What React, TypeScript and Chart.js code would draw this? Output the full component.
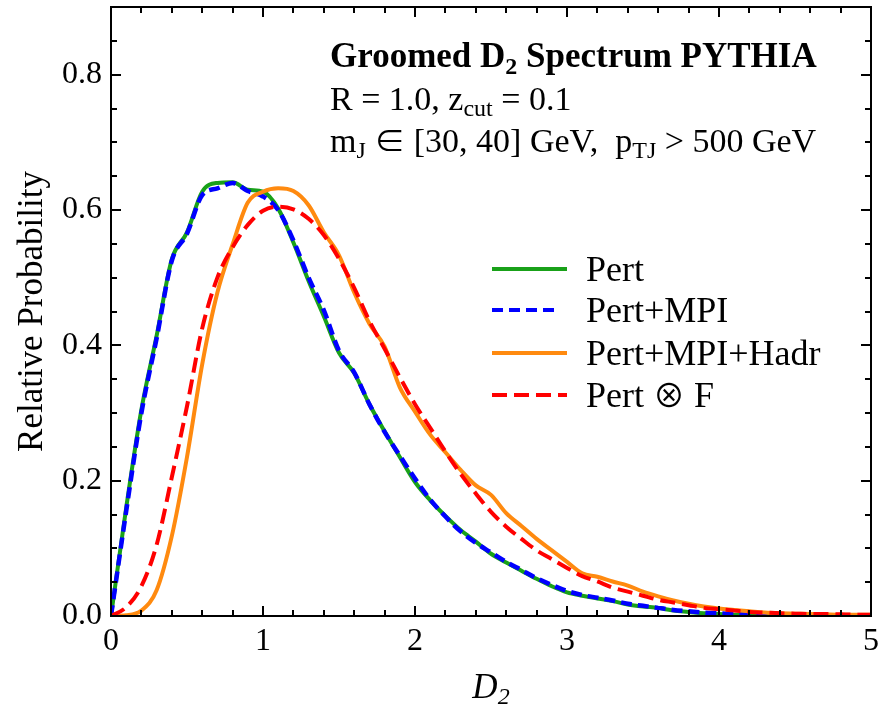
import React, { useEffect, useRef } from "react";
import { Chart, registerables } from "chart.js";

Chart.register(...registerables);

// D2 grid
const D2 = [
  0.0, 0.1, 0.2, 0.3, 0.4, 0.5, 0.6, 0.7, 0.8, 0.9,
  1.0, 1.1, 1.2, 1.3, 1.4, 1.5, 1.6, 1.7, 1.8, 1.9,
  2.0, 2.1, 2.2, 2.3, 2.4, 2.5, 2.6, 2.7, 2.8, 2.9,
  3.0, 3.1, 3.2, 3.3, 3.4, 3.5, 3.6, 3.7, 3.8, 3.9,
  4.0, 4.1, 4.2, 4.3, 4.4, 4.5, 4.6, 4.7, 4.8, 4.9, 5.0,
];

const pert = [
  0.0, 0.16, 0.305, 0.414, 0.527, 0.567, 0.627, 0.64, 0.641, 0.63,
  0.627, 0.602, 0.552, 0.495, 0.443, 0.389, 0.359, 0.313, 0.273, 0.235,
  0.198, 0.171, 0.148, 0.127, 0.11, 0.092, 0.079, 0.067, 0.055, 0.044,
  0.035, 0.03, 0.026, 0.022, 0.017, 0.014, 0.012, 0.008, 0.006, 0.004,
  0.003, 0.002, 0.002, 0.001, 0.001, 0.001, 0.001, 0.0, 0.0, 0.0, 0.0,
];

const pertMPI = [
  0.0, 0.155, 0.3, 0.41, 0.525, 0.565, 0.622, 0.632, 0.64, 0.628,
  0.62, 0.6, 0.555, 0.5, 0.452, 0.392, 0.36, 0.313, 0.272, 0.237,
  0.203, 0.172, 0.147, 0.125, 0.108, 0.094, 0.08, 0.068, 0.056, 0.046,
  0.037, 0.031, 0.027, 0.023, 0.018, 0.015, 0.012, 0.009, 0.007, 0.005,
  0.004, 0.003, 0.002, 0.002, 0.001, 0.001, 0.001, 0.001, 0.0, 0.0, 0.0,
];

const pertMPIHadr = [
  0.0, 0.001, 0.008, 0.038, 0.118, 0.235, 0.372, 0.478, 0.549, 0.611,
  0.627, 0.632, 0.628, 0.607, 0.567, 0.533, 0.478, 0.432, 0.398, 0.338,
  0.302, 0.268, 0.242, 0.216, 0.193, 0.179, 0.152, 0.133, 0.114, 0.097,
  0.08, 0.063, 0.058, 0.051, 0.045, 0.036, 0.029, 0.023, 0.018, 0.014,
  0.011, 0.009, 0.007, 0.005, 0.004, 0.0035, 0.003, 0.0025, 0.002, 0.002, 0.002,
];

const pertConvF = [
  0.0, 0.013, 0.044, 0.105, 0.205, 0.31, 0.425, 0.5, 0.545, 0.578,
  0.599, 0.605, 0.601, 0.587, 0.563, 0.528, 0.485, 0.436, 0.395, 0.353,
  0.313, 0.278, 0.243, 0.21, 0.181, 0.154, 0.132, 0.114, 0.097, 0.084,
  0.071, 0.059, 0.051, 0.042, 0.036, 0.03, 0.024, 0.02, 0.016, 0.012,
  0.01, 0.008, 0.006, 0.005, 0.004, 0.0035, 0.003, 0.003, 0.0025, 0.002, 0.002,
];

const seriesLabels = ["Pert", "Pert+MPI", "Pert+MPI+Hadr", "Pert \u2297 F"];
const xTickValues = [0, 1, 2, 3, 4, 5];
const yTickValues = [0, 0.2, 0.4, 0.6, 0.8];

const SERIF = "'Liberation Serif', 'Times New Roman', serif";
const SYM = "'Noto Sans CJK JP', 'DejaVu Sans', sans-serif";

type Part = { t: string; font: string; dy?: number };

function drawRich(ctx: CanvasRenderingContext2D, x: number, y: number, parts: Part[]) {
  let cx = x;
  for (const p of parts) {
    ctx.font = p.font;
    ctx.fillText(p.t, cx, y + (p.dy || 0));
    cx += ctx.measureText(p.t).width;
  }
}

// split text so that math symbols use a thinner symbol font
function symParts(text: string, size: number): Part[] {
  const out: Part[] = [];
  let buf = "";
  for (const ch of text) {
    if (ch === "\u2297" || ch === "\u2208") {
      if (buf) out.push({ t: buf, font: `${size}px ${SERIF}` });
      buf = "";
      out.push({ t: ch, font: `${Math.round(size * 0.9)}px ${SYM}` });
    } else buf += ch;
  }
  if (buf) out.push({ t: buf, font: `${size}px ${SERIF}` });
  return out;
}

const decorPlugin = {
  id: "decor",
  afterDraw(chart: any) {
    const ctx: CanvasRenderingContext2D = chart.ctx;
    const { left, right, top, bottom } = chart.chartArea;
    const xs = chart.scales.x;
    const ys = chart.scales.y;
    ctx.save();
    ctx.strokeStyle = "#000";
    ctx.fillStyle = "#000";
    ctx.lineWidth = 2;
    ctx.setLineDash([]);
    // ticks
    for (let i = 0; i <= 25; i++) {
      const px = Math.round(xs.getPixelForValue(i * 0.2));
      const len = i % 5 === 0 ? 10 : 6;
      ctx.beginPath();
      ctx.moveTo(px, bottom);
      ctx.lineTo(px, bottom - len);
      ctx.moveTo(px, top);
      ctx.lineTo(px, top + len);
      ctx.stroke();
    }
    for (let i = 0; i <= 18; i++) {
      const py = Math.round(ys.getPixelForValue(i * 0.05));
      const len = i % 4 === 0 ? 10 : 6;
      ctx.beginPath();
      ctx.moveTo(left, py);
      ctx.lineTo(left + len, py);
      ctx.moveTo(right, py);
      ctx.lineTo(right - len, py);
      ctx.stroke();
    }
    ctx.strokeRect(left, top, right - left, bottom - top);

    // annotation text
    ctx.textAlign = "left";
    ctx.textBaseline = "alphabetic";
    drawRich(ctx, 330, 67, [
      { t: "Groomed D", font: `bold 35px ${SERIF}` },
      { t: "2", font: `bold 24px ${SERIF}`, dy: 7 },
      { t: " Spectrum PYTHIA", font: `bold 35px ${SERIF}` },
    ]);
    drawRich(ctx, 330, 110, [
      { t: "R = 1.0, z", font: `34px ${SERIF}` },
      { t: "cut", font: `24px ${SERIF}`, dy: 6 },
      { t: " = 0.1", font: `34px ${SERIF}` },
    ]);
    drawRich(ctx, 330, 152, [
      { t: "m", font: `34px ${SERIF}` },
      { t: "J", font: `24px ${SERIF}`, dy: 6 },
      { t: " ", font: `34px ${SERIF}` },
      ...symParts("\u2208", 34),
      { t: " [30, 40] GeV,  p", font: `34px ${SERIF}` },
      { t: "TJ", font: `24px ${SERIF}`, dy: 6 },
      { t: " > 500 GeV", font: `34px ${SERIF}` },
    ]);

    // legend
    const rows = [269, 310, 353, 395];
    const ds = chart.data.datasets;
    for (let i = 0; i < ds.length; i++) {
      const d = ds[i];
      const yy = rows[i];
      ctx.strokeStyle = d.borderColor;
      ctx.lineWidth = 4;
      ctx.setLineDash(d.borderDash || []);
      ctx.beginPath();
      ctx.moveTo(492, yy);
      ctx.lineTo(i === 1 ? 557 : 567, yy);
      ctx.stroke();
      ctx.setLineDash([]);
      ctx.fillStyle = "#000";
      ctx.textBaseline = "alphabetic";
      drawRich(ctx, 586, yy + 12, symParts(d.label, 36));
    }

    // axis titles
    ctx.textBaseline = "alphabetic";
    ctx.fillStyle = "#000";
    ctx.font = `italic 35px ${SERIF}`;
    const dW = ctx.measureText("D").width;
    ctx.font = `italic 24px ${SERIF}`;
    const sW = ctx.measureText("2").width;
    const cx = (left + right) / 2 - (dW + sW) / 2;
    drawRich(ctx, cx, 698, [
      { t: "D", font: `italic 35px ${SERIF}` },
      { t: "2", font: `italic 24px ${SERIF}`, dy: 6 },
    ]);

    ctx.save();
    ctx.translate(42, (top + bottom) / 2);
    ctx.rotate(-Math.PI / 2);
    ctx.textAlign = "center";
    ctx.font = `35px ${SERIF}`;
    ctx.fillText("Relative Probability", 0, 0);
    ctx.restore();

    ctx.restore();
  },
};

export default function App() {
  const ref = useRef<HTMLCanvasElement>(null);
  useEffect(() => {
    document.body.style.margin = "0";
    const canvas = ref.current!;
    const mk = (ys: number[]) => D2.map((x, i) => ({ x, y: ys[i] }));
    const chart = new Chart(canvas, {
      type: "line",
      data: {
        datasets: [
          {
            label: seriesLabels[0],
            data: mk(pert),
            borderColor: "#19a119",
            borderWidth: 4,
            pointRadius: 0,
            cubicInterpolationMode: "monotone",
            order: 4,
          },
          {
            label: seriesLabels[1],
            data: mk(pertMPI),
            borderColor: "#0000ff",
            borderWidth: 4.5,
            borderDash: [11, 6],
            pointRadius: 0,
            cubicInterpolationMode: "monotone",
            order: 3,
          },
          {
            label: seriesLabels[2],
            data: mk(pertMPIHadr),
            borderColor: "#ff8a0f",
            borderWidth: 4,
            pointRadius: 0,
            cubicInterpolationMode: "monotone",
            order: 2,
          },
          {
            label: seriesLabels[3],
            data: mk(pertConvF),
            borderColor: "#ff0000",
            borderWidth: 4,
            borderDash: [15, 7],
            pointRadius: 0,
            cubicInterpolationMode: "monotone",
            order: 1,
          },
        ] as any,
      },
      options: {
        animation: false,
        responsive: false,
        devicePixelRatio: 1,
        layout: { padding: { top: 7, right: 7, left: 0, bottom: 0 } },
        plugins: { legend: { display: false }, tooltip: { enabled: false } },
        scales: {
          x: {
            type: "linear",
            min: 0,
            max: 5,
            afterFit: (s: any) => {
              s.height = 88;
              s.paddingLeft = 0;
              s.paddingRight = 0;
              s.paddingTop = 0;
              s.paddingBottom = 0;
            },
            afterBuildTicks: (s: any) => {
              s.ticks = xTickValues.map((v) => ({ value: v }));
            },
            grid: { display: false, drawTicks: false },
            border: { display: false },
            ticks: {
              padding: 6,
              color: "#000",
              font: { family: SERIF, size: 32 },
              maxRotation: 0,
              callback: (v: any) => String(v),
            },
          },
          y: {
            type: "linear",
            min: 0,
            max: 0.9,
            afterFit: (s: any) => {
              s.width = 111;
              s.paddingLeft = 0;
              s.paddingRight = 0;
              s.paddingTop = 0;
              s.paddingBottom = 0;
            },
            afterBuildTicks: (s: any) => {
              s.ticks = yTickValues.map((v) => ({ value: v }));
            },
            grid: { display: false, drawTicks: false },
            border: { display: false },
            ticks: {
              padding: 9,
              color: "#000",
              font: { family: SERIF, size: 32 },
              callback: (v: any) => Number(v).toFixed(1),
            },
          },
        },
      } as any,
      plugins: [decorPlugin],
    });
    return () => chart.destroy();
  }, []);
  return (
    <div style={{ position: "absolute", left: 0, top: 0, width: 878, height: 704, background: "#fff" }}>
      <canvas ref={ref} width={878} height={704} style={{ width: 878, height: 704 }} />
    </div>
  );
}
